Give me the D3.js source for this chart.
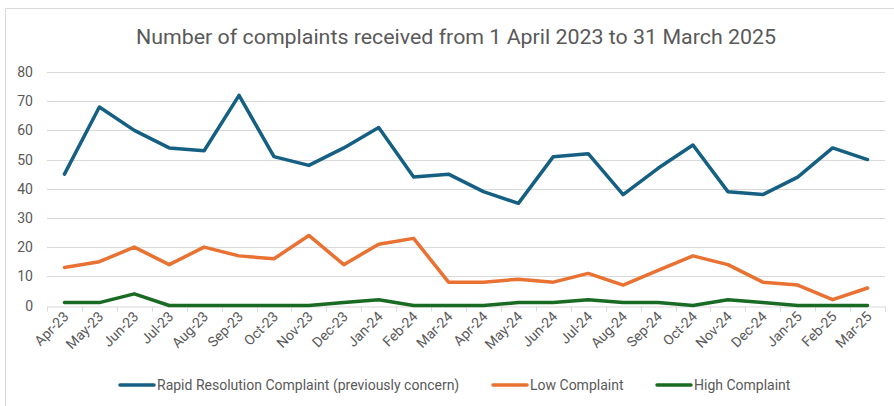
<!DOCTYPE html>
<html>
<head>
<meta charset="utf-8">
<script src="https://cdn.jsdelivr.net/npm/d3@7"></script>
<style>
  html, body { margin: 0; padding: 0; background: #fff; }
  svg { display: block; font-family: Roboto, "Noto Sans", sans-serif; }
</style>
</head>
<body>
<svg class="chart" width="894" height="406"></svg>
<script>
'use strict'
// months on the x axis
const months = ['Apr-23', 'May-23', 'Jun-23', 'Jul-23', 'Aug-23', 'Sep-23', 'Oct-23', 'Nov-23',
  'Dec-23', 'Jan-24', 'Feb-24', 'Mar-24', 'Apr-24', 'May-24', 'Jun-24', 'Jul-24', 'Aug-24',
  'Sep-24', 'Oct-24', 'Nov-24', 'Dec-24', 'Jan-25', 'Feb-25', 'Mar-25']

const rapid = [45, 68, 60, 54, 53, 72, 51, 48, 54, 61, 44, 45, 39, 35, 51, 52, 38, 47, 55, 39, 38, 44, 54, 50]
const low = [13, 15, 20, 14, 20, 17, 16, 24, 14, 21, 23, 8, 8, 9, 8, 11, 7, 12, 17, 14, 8, 7, 2, 6]
const high = [1, 1, 4, 0, 0, 0, 0, 0, 1, 2, 0, 0, 0, 1, 1, 2, 1, 1, 0, 2, 1, 0, 0, 0]

const seriesNames = ['Rapid Resolution Complaint (previously concern)', 'Low Complaint', 'High Complaint']
const yTicks = [0, 10, 20, 30, 40, 50, 60, 70, 80]
const title = 'Number of complaints received from 1 April 2023 to 31 March 2025'

const series = [
  { name: seriesNames[0], values: rapid, color: '#156082' },
  { name: seriesNames[1], values: low, color: '#E97132' },
  { name: seriesNames[2], values: high, color: '#196B24' }
]

const svg = d3.select('.chart')
const plotLeft = 47, plotRight = 885, plotTop = 72, plotBottom = 305.5

const x = d3.scaleBand().domain(months).range([plotLeft, plotRight])
const y = d3.scaleLinear().domain([0, 80]).range([plotBottom, plotTop])

// chart frame (only top and left edges show in the picture)
svg.append('path')
  .attr('d', 'M5.5,406 V8.5 H894')
  .attr('fill', 'none')
  .attr('stroke', '#d9d9d9')
  .attr('stroke-width', 1)

svg.append('text')
  .attr('x', 456).attr('y', 44)
  .attr('text-anchor', 'middle')
  .attr('font-size', 20)
  .attr('fill', '#595959')
  .attr('textLength', 640)
  .attr('lengthAdjust', 'spacingAndGlyphs')
  .text(title)

// gridlines
svg.append('g')
  .selectAll('line')
  .data(yTicks.filter(d => d > 0))
  .enter().append('line')
  .attr('x1', plotLeft).attr('x2', plotRight)
  .attr('y1', d => Math.round(y(d)) + 0.5).attr('y2', d => Math.round(y(d)) + 0.5)
  .attr('stroke', '#d9d9d9')

// y axis labels
svg.append('g')
  .selectAll('text')
  .data(yTicks)
  .enter().append('text')
  .attr('x', 33).attr('y', d => y(d) + 5)
  .attr('text-anchor', 'end')
  .attr('font-size', 14)
  .attr('fill', '#595959')
  .text(d => d)

// x axis
const xAxis = svg.append('g')
  .attr('transform', 'translate(0,' + (Math.round(plotBottom) + 0.5) + ')')
  .call(d3.axisBottom(x).tickSize(0).tickFormat(''))
xAxis.select('.domain').attr('stroke', '#d9d9d9')

const bounds = months.map(m => x(m)).concat([plotRight])
xAxis.selectAll('.bnd')
  .data(bounds)
  .enter().append('line')
  .attr('class', 'bnd')
  .attr('x1', d => Math.round(d) + 0.5).attr('x2', d => Math.round(d) + 0.5)
  .attr('y1', 0).attr('y2', 5)
  .attr('stroke', '#d9d9d9')

svg.append('g')
  .selectAll('text')
  .data(months)
  .enter().append('text')
  .attr('transform', d => 'translate(' + (x(d) + x.bandwidth() / 2 + 5) + ',' + (plotBottom + 12) + ') rotate(-45)')
  .attr('text-anchor', 'end')
  .attr('font-size', 14)
  .attr('fill', '#595959')
  .text(d => d)

// lines
const line = d3.line()
  .x((d, i) => x(months[i]) + x.bandwidth() / 2)
  .y(d => y(d))

svg.append('g')
  .selectAll('path')
  .data(series.slice().reverse())
  .enter().append('path')
  .attr('d', d => line(d.values))
  .attr('fill', 'none')
  .attr('stroke', d => d.color)
  .attr('stroke-width', 3.5)
  .attr('stroke-linejoin', 'round')
  .attr('stroke-linecap', 'round')

// legend
const legendX = [120, 493, 657]
const legend = svg.append('g')
  .selectAll('g')
  .data(series)
  .enter().append('g')
  .attr('transform', (d, i) => 'translate(' + legendX[i] + ',385)')
legend.append('line')
  .attr('x1', 0).attr('x2', 34)
  .attr('stroke', d => d.color)
  .attr('stroke-width', 3.5)
  .attr('stroke-linecap', 'round')
legend.append('text')
  .attr('x', 37).attr('y', 5)
  .attr('font-size', 14)
  .attr('fill', '#595959')
  .text(d => d.name)
</script>
</body>
</html>
